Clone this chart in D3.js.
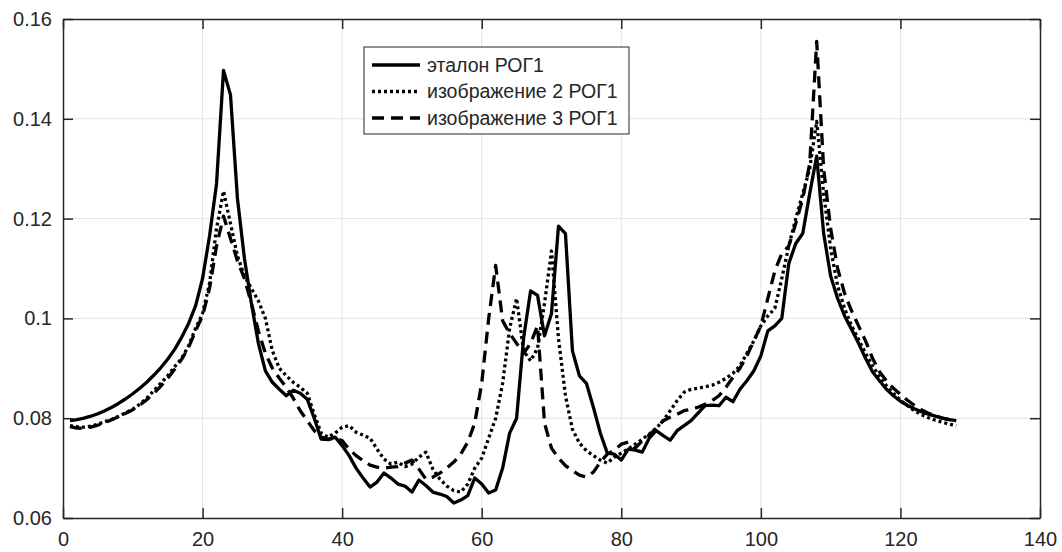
<!DOCTYPE html>
<html>
<head>
<meta charset="utf-8">
<script src="https://cdn.jsdelivr.net/npm/d3@7"></script>
<style>
  body { margin: 0; background: #fff; }
  text { font-family: "Liberation Sans", Arial, sans-serif; fill: #262626; }
</style>
</head>
<body>
<div id="chart-area"></div>
<script>
// tick values / labels
var xTicks = [0, 20, 40, 60, 80, 100, 120, 140];
var yTicks = [0.06, 0.08, 0.1, 0.12, 0.14, 0.16];
var yTickLabels = ["0.06", "0.08", "0.1", "0.12", "0.14", "0.16"];

// series names
var names = ["эталон РОГ1", "изображение 2 РОГ1", "изображение 3 РОГ1"];

// values at x = 1..128
var etalon = [
  0.0795, 0.0797, 0.0800, 0.0804, 0.0809, 0.0815, 0.0822, 0.0830, 0.0839, 0.0849,
  0.0860, 0.0872, 0.0886, 0.0901, 0.0918, 0.0938, 0.0962, 0.0990, 0.1025, 0.1080,
  0.1165, 0.1270, 0.1497, 0.1448, 0.1240, 0.1120, 0.1030, 0.0950, 0.0895, 0.0872,
  0.0858, 0.0845, 0.0856, 0.0850, 0.0838, 0.0800, 0.0758, 0.0757, 0.0762, 0.0745,
  0.0725, 0.0700, 0.0680, 0.0662, 0.0672, 0.0690, 0.0680, 0.0668, 0.0664, 0.0652,
  0.0676, 0.0665, 0.0652, 0.0648, 0.0643, 0.0630, 0.0636, 0.0645, 0.0680, 0.0668,
  0.0650, 0.0656, 0.0700, 0.0770, 0.0800, 0.0960, 0.1055, 0.1046, 0.0965, 0.1010,
  0.1185, 0.1170, 0.0935, 0.0885, 0.0870, 0.0822, 0.0770, 0.0730, 0.0728, 0.0716,
  0.0738, 0.0736, 0.0732, 0.0760, 0.0775, 0.0765, 0.0756, 0.0775, 0.0785, 0.0795,
  0.0810, 0.0825, 0.0826, 0.0825, 0.0842, 0.0833, 0.0858, 0.0875, 0.0895, 0.0925,
  0.0975, 0.0985, 0.1000, 0.1110, 0.1150, 0.1170, 0.1250, 0.1325, 0.1170, 0.1085,
  0.1040, 0.1005, 0.0978, 0.0950, 0.0920, 0.0893, 0.0875, 0.0858, 0.0845, 0.0834,
  0.0826, 0.0819, 0.0813, 0.0808, 0.0804, 0.0800, 0.0797, 0.0795
];
var image2 = [
  0.0785, 0.0783, 0.0782, 0.0784, 0.0788, 0.0793, 0.0798, 0.0804, 0.0811, 0.0818,
  0.0828, 0.0840, 0.0855, 0.0870, 0.0885, 0.0903, 0.0920, 0.0945, 0.0980, 0.1010,
  0.1070, 0.1180, 0.1255, 0.1190, 0.1125, 0.1085, 0.1060, 0.1035, 0.1000, 0.0935,
  0.0900, 0.0885, 0.0872, 0.0862, 0.0850, 0.0808, 0.0770, 0.0762, 0.0770, 0.0782,
  0.0785, 0.0772, 0.0766, 0.0760, 0.0738, 0.0718, 0.0708, 0.0712, 0.0703, 0.0708,
  0.0722, 0.0732, 0.0698, 0.0678, 0.0664, 0.0655, 0.0652, 0.0668, 0.0700, 0.0720,
  0.0760, 0.0800, 0.0870, 0.0980, 0.1040, 0.0935, 0.0915, 0.0940, 0.1030, 0.1135,
  0.0960, 0.0845, 0.0778, 0.0750, 0.0735, 0.0725, 0.0716, 0.0710, 0.0722, 0.0730,
  0.0738, 0.0748, 0.0758, 0.0768, 0.0780, 0.0795, 0.0815, 0.0835, 0.0852, 0.0858,
  0.0860, 0.0863, 0.0866, 0.0872, 0.0880, 0.0890, 0.0905, 0.0930, 0.0955, 0.0985,
  0.1005, 0.1020, 0.1080, 0.1145, 0.1200, 0.1250, 0.1300, 0.1395, 0.1250, 0.1140,
  0.1065, 0.1020, 0.0985, 0.0958, 0.0930, 0.0905, 0.0883, 0.0865, 0.0850, 0.0836,
  0.0825, 0.0815, 0.0807, 0.0801, 0.0796, 0.0792, 0.0788, 0.0785
];
var image3 = [
  0.0783, 0.0780, 0.0780, 0.0782, 0.0786, 0.0791, 0.0797, 0.0803, 0.0810, 0.0817,
  0.0826, 0.0837, 0.0850, 0.0864, 0.0880, 0.0898, 0.0918, 0.0942, 0.0975, 0.1005,
  0.1060, 0.1145, 0.1205, 0.1160, 0.1115, 0.1080, 0.1030, 0.0975, 0.0930, 0.0900,
  0.0880, 0.0862, 0.0840, 0.0815, 0.0795, 0.0775, 0.0762, 0.0758, 0.0760, 0.0755,
  0.0738, 0.0725, 0.0715, 0.0706, 0.0702, 0.0700, 0.0702, 0.0703, 0.0710, 0.0716,
  0.0698, 0.0678, 0.0682, 0.0690, 0.0700, 0.0712, 0.0728, 0.0752, 0.0790, 0.0870,
  0.1000, 0.1106, 0.0995, 0.0970, 0.0950, 0.0930, 0.0950, 0.0985, 0.0790, 0.0740,
  0.0720, 0.0705, 0.0695, 0.0686, 0.0682, 0.0692, 0.0712, 0.0728, 0.0736, 0.0748,
  0.0752, 0.0740, 0.0755, 0.0766, 0.0780, 0.0795, 0.0802, 0.0808, 0.0815, 0.0818,
  0.0822, 0.0828, 0.0835, 0.0845, 0.0862, 0.0882, 0.0900, 0.0925, 0.0955, 0.0985,
  0.1040, 0.1095, 0.1130, 0.1145, 0.1190, 0.1240, 0.1310, 0.1555, 0.1300, 0.1180,
  0.1100, 0.1050, 0.1015, 0.0985, 0.0955, 0.0920, 0.0893, 0.0875, 0.0860, 0.0848,
  0.0836, 0.0826, 0.0817, 0.0810, 0.0805, 0.0800, 0.0797, 0.0795
];

var width = 1062, height = 552;
var plot = {left: 63, right: 1040, top: 19, bottom: 518};

var svg = d3.select("#chart-area").append("svg")
    .attr("width", width)
    .attr("height", height);

var x = d3.scaleLinear().domain([0, 140]).range([plot.left, plot.right]);
var y = d3.scaleLinear().domain([0.06, 0.16]).range([plot.bottom, plot.top]);

// grid
svg.append("g").selectAll("line.gx")
    .data(xTicks.slice(1, -1))
    .enter().append("line")
    .attr("x1", d => x(d)).attr("x2", d => x(d))
    .attr("y1", plot.top).attr("y2", plot.bottom)
    .attr("stroke", "#e3e3e3").attr("stroke-width", 1);
svg.append("g").selectAll("line.gy")
    .data(yTicks.slice(1, -1))
    .enter().append("line")
    .attr("x1", plot.left).attr("x2", plot.right)
    .attr("y1", d => y(d)).attr("y2", d => y(d))
    .attr("stroke", "#e3e3e3").attr("stroke-width", 1);

// lines
var line = d3.line()
    .x((d, i) => x(i + 1))
    .y(d => y(d));

var series = [
  {name: names[0], values: etalon, dash: null},
  {name: names[1], values: image2, dash: "3,3"},
  {name: names[2], values: image3, dash: "12,7"}
];

svg.append("g").selectAll("path")
    .data(series)
    .enter().append("path")
    .attr("d", d => line(d.values))
    .attr("fill", "none")
    .attr("stroke", "#000")
    .attr("stroke-width", 3.3)
    .attr("stroke-linejoin", "round")
    .attr("stroke-dasharray", d => d.dash);

// axes box with inward ticks
var xAxisBottom = d3.axisBottom(x).tickValues(xTicks).tickSizeInner(-10).tickSizeOuter(0).tickPadding(14).tickFormat(d3.format("d"));
var xAxisTop = d3.axisTop(x).tickValues(xTicks).tickSizeInner(-10).tickSizeOuter(0).tickFormat("");
var yAxisLeft = d3.axisLeft(y).tickValues(yTicks).tickSizeInner(-10).tickSizeOuter(0).tickPadding(11)
    .tickFormat((d, i) => yTickLabels[i]);
var yAxisRight = d3.axisRight(y).tickValues(yTicks).tickSizeInner(-10).tickSizeOuter(0).tickFormat("");

function styleAxis(g) {
  g.select(".domain").attr("stroke", "#262626").attr("stroke-width", 1.5);
  g.selectAll(".tick line").attr("stroke", "#262626").attr("stroke-width", 1.5);
  g.selectAll(".tick text").attr("font-size", "20px").attr("fill", "#262626")
    .attr("font-family", "'Liberation Sans', Arial, sans-serif");
}

svg.append("g").attr("transform", "translate(0," + plot.bottom + ")").call(xAxisBottom).call(styleAxis);
svg.append("g").attr("transform", "translate(0," + plot.top + ")").call(xAxisTop).call(styleAxis);
svg.append("g").attr("transform", "translate(" + plot.left + ",0)").call(yAxisLeft).call(styleAxis);
svg.append("g").attr("transform", "translate(" + plot.right + ",0)").call(yAxisRight).call(styleAxis);

// legend
var legend = svg.append("g").attr("transform", "translate(364,47)");
legend.append("rect")
    .attr("width", 265).attr("height", 87)
    .attr("fill", "#fff").attr("stroke", "#262626").attr("stroke-width", 1);

var rows = legend.selectAll("g.row")
    .data(series)
    .enter().append("g")
    .attr("transform", (d, i) => "translate(0," + (18 + i * 26.5) + ")");
rows.append("line")
    .attr("x1", 8).attr("x2", 56)
    .attr("y1", 0).attr("y2", 0)
    .attr("stroke", "#000").attr("stroke-width", 3.3)
    .attr("stroke-dasharray", d => d.dash);
rows.append("text")
    .attr("x", 63).attr("y", 0)
    .attr("dy", "0.35em")
    .attr("font-size", "19.5px")
    .attr("fill", "#000")
    .text(d => d.name);
</script>
</body>
</html>
